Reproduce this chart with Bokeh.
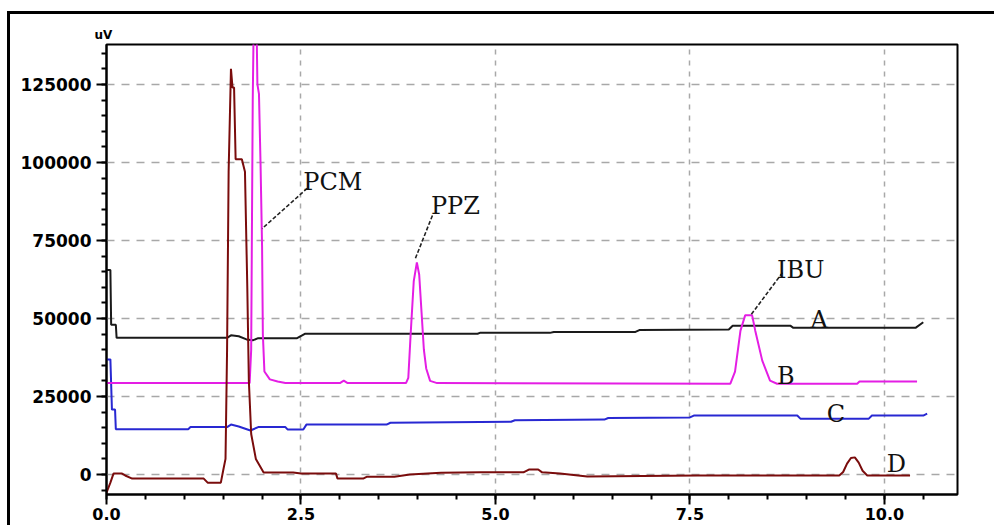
from bokeh.plotting import figure
from bokeh.models import (Range1d, FixedTicker, PrintfTickFormatter, ColumnDataSource,
                          InlineStyleSheet)
from bokeh.core.properties import value
from bokeh.embed import file_html
from bokeh.resources import INLINE

# ---------------- data ----------------
# retention time (min) and signal (uV)
a_x = [0.0, 0.05, 0.06, 0.12, 0.13, 1.55, 1.6, 1.7, 1.8, 1.88, 1.95, 2.45, 2.55, 4.77, 4.8,
       5.7, 5.75, 6.8, 6.85, 8.0, 8.05, 8.79, 8.83, 10.4, 10.5]
a_y = [65500, 65500, 48000, 48000, 43800, 43800, 44600, 44300, 43300, 43000, 43700, 43700,
       45100, 45100, 45400, 45400, 45700, 45700, 46300, 46500, 47700, 47700, 47000, 47000, 48800]

b_x = [0.0, 1.84, 1.86, 1.88, 1.9, 1.92, 1.94, 1.96, 1.98, 2.0, 2.01, 2.03, 2.1, 2.2, 2.3,
       3.0, 3.05, 3.1, 3.85, 3.88, 3.91, 3.95, 3.99, 4.02, 4.05, 4.08, 4.11, 4.16, 4.25,
       8.02, 8.08, 8.15, 8.21, 8.3, 8.34, 8.43, 8.53, 8.62, 9.65, 9.68, 10.42]
b_y = [29300, 29300, 40000, 120000, 160000, 160000, 125000, 122000, 100000, 73000, 45000,
       33000, 30500, 29800, 29300, 29300, 30100, 29300, 29300, 31000, 45000, 62000, 68000,
       64000, 52000, 40000, 34000, 30000, 29300, 29100, 33000, 46100, 51000, 51000, 46100,
       36500, 30100, 29100, 29100, 29800, 29800]

c_x = [0.0, 0.05, 0.07, 0.11, 0.12, 1.05, 1.08, 1.55, 1.6, 1.7, 1.85, 1.95, 2.3, 2.33, 2.53,
       2.57, 3.6, 3.65, 5.2, 5.25, 6.4, 6.45, 7.5, 7.55, 8.88, 8.92, 9.8, 9.84, 10.5, 10.55]
c_y = [36900, 36900, 20800, 20800, 14500, 14500, 15200, 15200, 16000, 15400, 14100, 15200,
       15200, 14400, 14400, 16000, 16000, 16600, 16900, 17400, 17600, 18100, 18300, 18900,
       18900, 17900, 17900, 18900, 18900, 19500]

d_x = [0.0, 0.05, 0.09, 0.2, 0.24, 0.33, 1.25, 1.3, 1.47, 1.5, 1.53, 1.55, 1.57, 1.6, 1.62,
       1.64, 1.66, 1.74, 1.78, 1.81, 1.83, 1.86, 1.92, 2.02, 2.4, 2.5, 2.95, 2.97, 3.3, 3.35,
       3.7, 3.9, 4.3, 4.81, 5.36, 5.43, 5.55, 5.6, 5.83, 6.18, 7.6, 9.42, 9.47, 9.52, 9.57,
       9.62, 9.67, 9.72, 9.78, 10.33]
d_y = [-5800, -2600, 300, 300, -300, -1300, -1300, -2600, -2600, 1300, 5000, 40000, 97000,
       130000, 124000, 124000, 101000, 101000, 97000, 60000, 30000, 13000, 5000, 650, 650,
       300, 300, -1300, -1300, -700, -700, 0, 600, 700, 700, 1600, 1600, 700, 300, -600,
       -300, -300, 800, 3500, 5300, 5500, 3800, 1200, -300, -300]

# peak / trace annotations
lab_text = ["PCM", "PPZ", "IBU", "A", "B", "C", "D"]
lab_x = [2.53, 4.17, 8.62, 9.05, 8.62, 9.26, 10.03]
lab_y = [93600, 86200, 65400, 49400, 31700, 19550, 3500]

# leader lines: label end -> peak end
lead_x0 = [2.58, 4.19, 8.69]
lead_y0 = [91700, 83000, 64700]
lead_x1 = [2.0, 3.97, 8.28]
lead_y1 = [78800, 69200, 51000]

x_major = [0.0, 2.5, 5.0, 7.5, 10.0]
x_minor = [i * 0.5 for i in range(22)]
y_major = [0, 25000, 50000, 75000, 100000, 125000]
y_minor = list(range(-5000, 140000, 5000))
y_unit = "uV"

# ---------------- figure ----------------
p = figure(width=994, height=525, output_backend="svg", toolbar_location=None,
           x_range=Range1d(0, 10.94), y_range=Range1d(-6400, 137800),
           min_border_left=106, min_border_right=37, min_border_top=44, min_border_bottom=31,
           title=y_unit)
p.title.align = "left"
p.title.offset = -12
p.title.standoff = 5
p.title.text_font = "DejaVu Sans"
p.title.text_font_style = "bold"
p.title.text_font_size = "12px"
p.title.text_color = "black"

p.background_fill_color = "white"
p.border_fill_color = "white"
p.outline_line_color = "black"
p.outline_line_width = 2
p.outline_line_alpha = 1.0

for ax, maj, mnr in ((p.xaxis, x_major, x_minor), (p.yaxis, y_major, y_minor)):
    ax.ticker = FixedTicker(ticks=maj, minor_ticks=mnr)
    ax.axis_line_color = "black"
    ax.axis_line_width = 2
    ax.major_tick_line_color = "black"
    ax.major_tick_line_width = 2
    ax.minor_tick_line_color = "black"
    ax.minor_tick_line_width = 2
    ax.major_tick_in = 0
    ax.minor_tick_in = 0
    ax.major_tick_out = 10
    ax.minor_tick_out = 5
    ax.major_label_text_font = "DejaVu Sans"
    ax.major_label_text_font_style = "bold"
    ax.major_label_text_color = "black"

p.xaxis.major_label_text_font_size = "16px"
p.yaxis.major_label_text_font_size = "17px"
p.xaxis.formatter = PrintfTickFormatter(format="%.1f")
p.xaxis.major_label_standoff = 3
p.yaxis.formatter = PrintfTickFormatter(format="%d")
p.yaxis.major_label_standoff = 5

p.xgrid.ticker = FixedTicker(ticks=x_major)
p.ygrid.ticker = FixedTicker(ticks=y_major)
p.xgrid.grid_line_color = "#a8a8a8"
p.xgrid.grid_line_dash = "5 6"
p.xgrid.grid_line_width = 1.5
p.ygrid.grid_line_color = "#a8a8a8"
p.ygrid.grid_line_dash = "8 7"
p.ygrid.grid_line_width = 1.5

p.line(a_x, a_y, line_color="#1a1a1a", line_width=2)
p.line(c_x, c_y, line_color="#2828d2", line_width=2)
p.line(b_x, b_y, line_color="#e41ee4", line_width=2)
p.line(d_x, d_y, line_color="#7a0c0c", line_width=2)

p.segment(x0=lead_x0, y0=lead_y0, x1=lead_x1, y1=lead_y1,
          line_color="#222222", line_width=1.6, line_dash="4 2")

src = ColumnDataSource(dict(x=lab_x, y=lab_y, t=lab_text))
p.text(x="x", y="y", text="t", source=src, text_font=value("DejaVu Serif"),
       text_font_size="24px", text_color="#111111", text_align="left",
       text_baseline="alphabetic")

p.stylesheets = [InlineStyleSheet(css="""
:host::after { content: ""; position: absolute; left: 7px; top: 11px; width: 987px;
  height: 514px; box-sizing: border-box; border-left: 3px solid #000;
  border-top: 3px solid #000; pointer-events: none; z-index: 10; }
""")]

open("out.html", "w").write(file_html(p, INLINE))
